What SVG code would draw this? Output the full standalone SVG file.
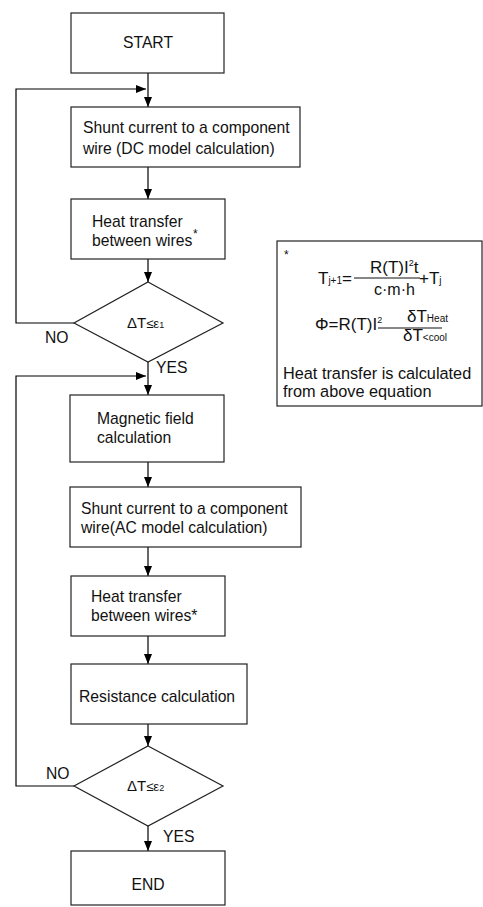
<svg xmlns="http://www.w3.org/2000/svg" width="483" height="907" viewBox="0 0 483 907">
<defs>
<marker id="ah" markerWidth="10" markerHeight="8" refX="10" refY="4" orient="auto" markerUnits="userSpaceOnUse">
<path d="M0,0 L10,4 L0,8 Z" fill="#000"/>
</marker>
<style>
.box{fill:#fff;stroke:#222;stroke-width:1.2}
.t{font-family:"Liberation Sans",Arial,sans-serif;font-size:15.7px;fill:#111}
.f{font-family:"Liberation Sans",Arial,sans-serif;font-size:17px;fill:#111}
.c{fill:none;stroke:#000;stroke-width:1.2}
</style>
</defs>
<rect width="483" height="907" fill="#fff"/>
<g id="connectors">
<path class="c" d="M148,73 V107" marker-end="url(#ah)"/>
<path class="c" d="M148,167 V199" marker-end="url(#ah)"/>
<path class="c" d="M148,259 V282" marker-end="url(#ah)"/>
<path class="c" d="M148,362 V395" marker-end="url(#ah)"/>
<path class="c" d="M148,462 V487" marker-end="url(#ah)"/>
<path class="c" d="M148,547 V576" marker-end="url(#ah)"/>
<path class="c" d="M148,636 V664" marker-end="url(#ah)"/>
<path class="c" d="M148,724 V746" marker-end="url(#ah)"/>
<path class="c" d="M148,826 V851" marker-end="url(#ah)"/>
<path class="c" d="M74,323 H16 V89 H146" marker-end="url(#ah)"/>
<path class="c" d="M74,786 H16 V376 H146" marker-end="url(#ah)"/>
<text class="t" x="45" y="343">NO</text>
<text class="t" x="156" y="373">YES</text>
<text class="t" x="46" y="779">NO</text>
<text class="t" x="163" y="842">YES</text>
</g>
<g id="start">
<rect class="box" x="71" y="13" width="153" height="60"/>
<text class="t" x="148" y="48" text-anchor="middle">START</text>
</g>
<g id="dc">
<rect class="box" x="71" y="107" width="229" height="60"/>
<text class="t" x="83" y="133">Shunt current to a component</text>
<text class="t" x="83" y="154">wire (DC model calculation)</text>
</g>
<g id="heat1">
<rect class="box" x="71" y="199" width="154" height="60"/>
<text class="t" x="92" y="227">Heat transfer</text>
<text class="t" x="92" y="246">between wires</text>
<text class="t" x="193" y="238" style="font-size:12px">*</text>
</g>
<g id="dec1">
<polygon class="box" points="148,282 223,323 148,362 74,323"/>
<text class="t" x="127" y="328" style="font-size:15px">ΔT<tspan style="font-size:13px">≤ε</tspan><tspan style="font-size:9px">1</tspan></text>
</g>
<g id="mag">
<rect class="box" x="70" y="395" width="154" height="67"/>
<text class="t" x="97" y="424">Magnetic field</text>
<text class="t" x="97" y="443">calculation</text>
</g>
<g id="ac">
<rect class="box" x="70" y="487" width="231" height="60"/>
<text class="t" x="81" y="514">Shunt current to a component</text>
<text class="t" x="81" y="533">wire(AC model calculation)</text>
</g>
<g id="heat2">
<rect class="box" x="71" y="576" width="154" height="60"/>
<text class="t" x="91" y="602">Heat transfer</text>
<text class="t" x="91" y="621">between wires*</text>
</g>
<g id="res">
<rect class="box" x="71" y="664" width="176" height="60"/>
<text class="t" x="79" y="702">Resistance calculation</text>
</g>
<g id="dec2">
<polygon class="box" points="148,746 223,786 148,826 74,786"/>
<text class="t" x="127" y="791" style="font-size:15px">ΔT<tspan style="font-size:13px">≤ε</tspan><tspan style="font-size:9px">2</tspan></text>
</g>
<g id="end">
<rect class="box" x="71" y="851" width="154" height="54"/>
<text class="t" x="148" y="890" text-anchor="middle">END</text>
</g>
<g id="note">
<rect class="box" x="277" y="241" width="205" height="165"/>
<text class="f" x="284" y="259" style="font-size:12px">*</text>
<text class="f" x="318" y="284">T<tspan style="font-size:10px">j+1</tspan>=</text>
<line x1="354" y1="278" x2="420" y2="278" stroke="#111" stroke-width="1"/>
<text class="f" x="370" y="273">R(T)I<tspan style="font-size:9px" dy="-7">2</tspan><tspan dy="7">t</tspan></text>
<text class="f" x="374" y="295" style="font-size:16px">c·m·h</text>
<text class="f" x="419" y="284">+T<tspan style="font-size:10px">j</tspan></text>
<text class="f" x="315" y="330">Φ=R(T)I<tspan style="font-size:9px" dy="-7">2</tspan></text>
<line x1="378" y1="328" x2="442" y2="328" stroke="#111" stroke-width="1"/>
<text class="f" x="407" y="322">δT<tspan style="font-size:10px">Heat</tspan></text>
<text class="f" x="403" y="341">δT<tspan style="font-size:10px">&lt;cool</tspan></text>
<text class="t" x="283" y="379" style="font-size:16.3px">Heat transfer is calculated</text>
<text class="t" x="283" y="397" style="font-size:16.3px">from above equation</text>
</g>
</svg>
